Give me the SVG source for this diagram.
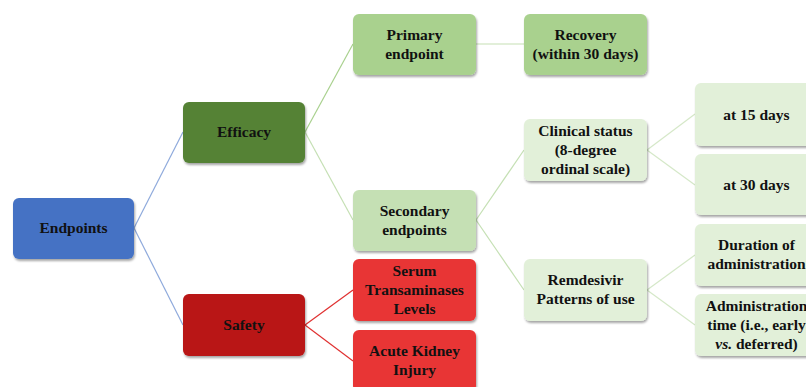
<svg xmlns="http://www.w3.org/2000/svg" width="806" height="387" viewBox="0 0 806 387">
<defs>
<filter id="sh" x="-10%" y="-10%" width="125%" height="130%">
<feDropShadow dx="1" dy="2" stdDeviation="1.2" flood-color="#000" flood-opacity="0.35"/>
</filter>
<style>
.n{filter:url(#sh)}
text{font-family:"Liberation Serif","Times New Roman",serif;font-size:15.5px;font-weight:bold;fill:#111;text-anchor:middle}
.c line{stroke-width:1.2;fill:none}
</style>
</defs>
<rect width="806" height="387" fill="#fff"/>
<g id="connectors" class="c">
<line x1="134" y1="228" x2="183" y2="132" stroke="#8FAADC"/>
<line x1="134" y1="228" x2="183" y2="325" stroke="#8FAADC"/>
<line x1="305" y1="132" x2="353" y2="44" stroke="#A9D18E"/>
<line x1="305" y1="132" x2="353" y2="220" stroke="#C5E0B4"/>
<line x1="476" y1="44" x2="524" y2="44" stroke="#C5E0B4"/>
<line x1="476" y1="220" x2="524" y2="150" stroke="#C5E0B4"/>
<line x1="476" y1="220" x2="524" y2="290" stroke="#C5E0B4"/>
<line x1="647" y1="150" x2="695" y2="114" stroke="#D5E8C8"/>
<line x1="647" y1="150" x2="695" y2="185" stroke="#D5E8C8"/>
<line x1="647" y1="290" x2="695" y2="255" stroke="#D5E8C8"/>
<line x1="647" y1="290" x2="695" y2="325" stroke="#D5E8C8"/>
<line x1="305" y1="325" x2="353" y2="290" stroke="#E03030"/>
<line x1="305" y1="325" x2="353" y2="361" stroke="#E03030"/>
</g>
<g id="endpoints"><rect class="n" x="13" y="198" width="121" height="61" rx="6" fill="#4472C4"/><text x="73.5" y="233">Endpoints</text></g>
<g id="efficacy"><rect class="n" x="183" y="102" width="122" height="61" rx="6" fill="#548235"/><text x="244" y="137">Efficacy</text></g>
<g id="safety"><rect class="n" x="183" y="294" width="122" height="62" rx="6" fill="#B91414"/><text x="244" y="330">Safety</text></g>
<g id="primary"><rect class="n" x="353" y="14" width="123" height="61" rx="6" fill="#A9D18E"/><text x="414.5" y="40">Primary</text><text x="414.5" y="59">endpoint</text></g>
<g id="recovery"><rect class="n" x="524" y="14" width="123" height="61" rx="6" fill="#A9D18E"/><text x="585.5" y="40">Recovery</text><text x="585.5" y="59">(within 30 days)</text></g>
<g id="secondary"><rect class="n" x="353" y="190" width="123" height="61" rx="6" fill="#C5E0B4"/><text x="414.5" y="216">Secondary</text><text x="414.5" y="235">endpoints</text></g>
<g id="serum"><rect class="n" x="353" y="259" width="123" height="62" rx="6" fill="#E83535"/><text x="414.5" y="276">Serum</text><text x="414.5" y="295">Transaminases</text><text x="414.5" y="314">Levels</text></g>
<g id="aki"><rect class="n" x="353" y="330" width="123" height="62" rx="6" fill="#E83535"/><text x="414.5" y="356">Acute Kidney</text><text x="414.5" y="375">Injury</text></g>
<g id="clinical"><rect class="n" x="524" y="119" width="123" height="62" rx="6" fill="#E2F0D9"/><text x="585.5" y="136">Clinical status</text><text x="585.5" y="155">(8-degree</text><text x="585.5" y="174">ordinal scale)</text></g>
<g id="remdesivir"><rect class="n" x="524" y="259" width="123" height="62" rx="6" fill="#E2F0D9"/><text x="585.5" y="285">Remdesivir</text><text x="585.5" y="304">Patterns of use</text></g>
<g id="at15"><rect class="n" x="695" y="83" width="123" height="63" rx="6" fill="#E2F0D9"/><text x="756.5" y="120">at 15 days</text></g>
<g id="at30"><rect class="n" x="695" y="154" width="123" height="61" rx="6" fill="#E2F0D9"/><text x="756.5" y="190">at 30 days</text></g>
<g id="duration"><rect class="n" x="695" y="224" width="123" height="62" rx="6" fill="#E2F0D9"/><text x="756.5" y="250">Duration of</text><text x="756.5" y="269">administration</text></g>
<g id="admintime"><rect class="n" x="695" y="294" width="123" height="62" rx="6" fill="#E2F0D9"/><text x="756.5" y="311">Administration</text><text x="756.5" y="330">time (i.e., early</text><text x="756.5" y="349"><tspan font-style="italic">vs.</tspan> deferred)</text></g>
</svg>
